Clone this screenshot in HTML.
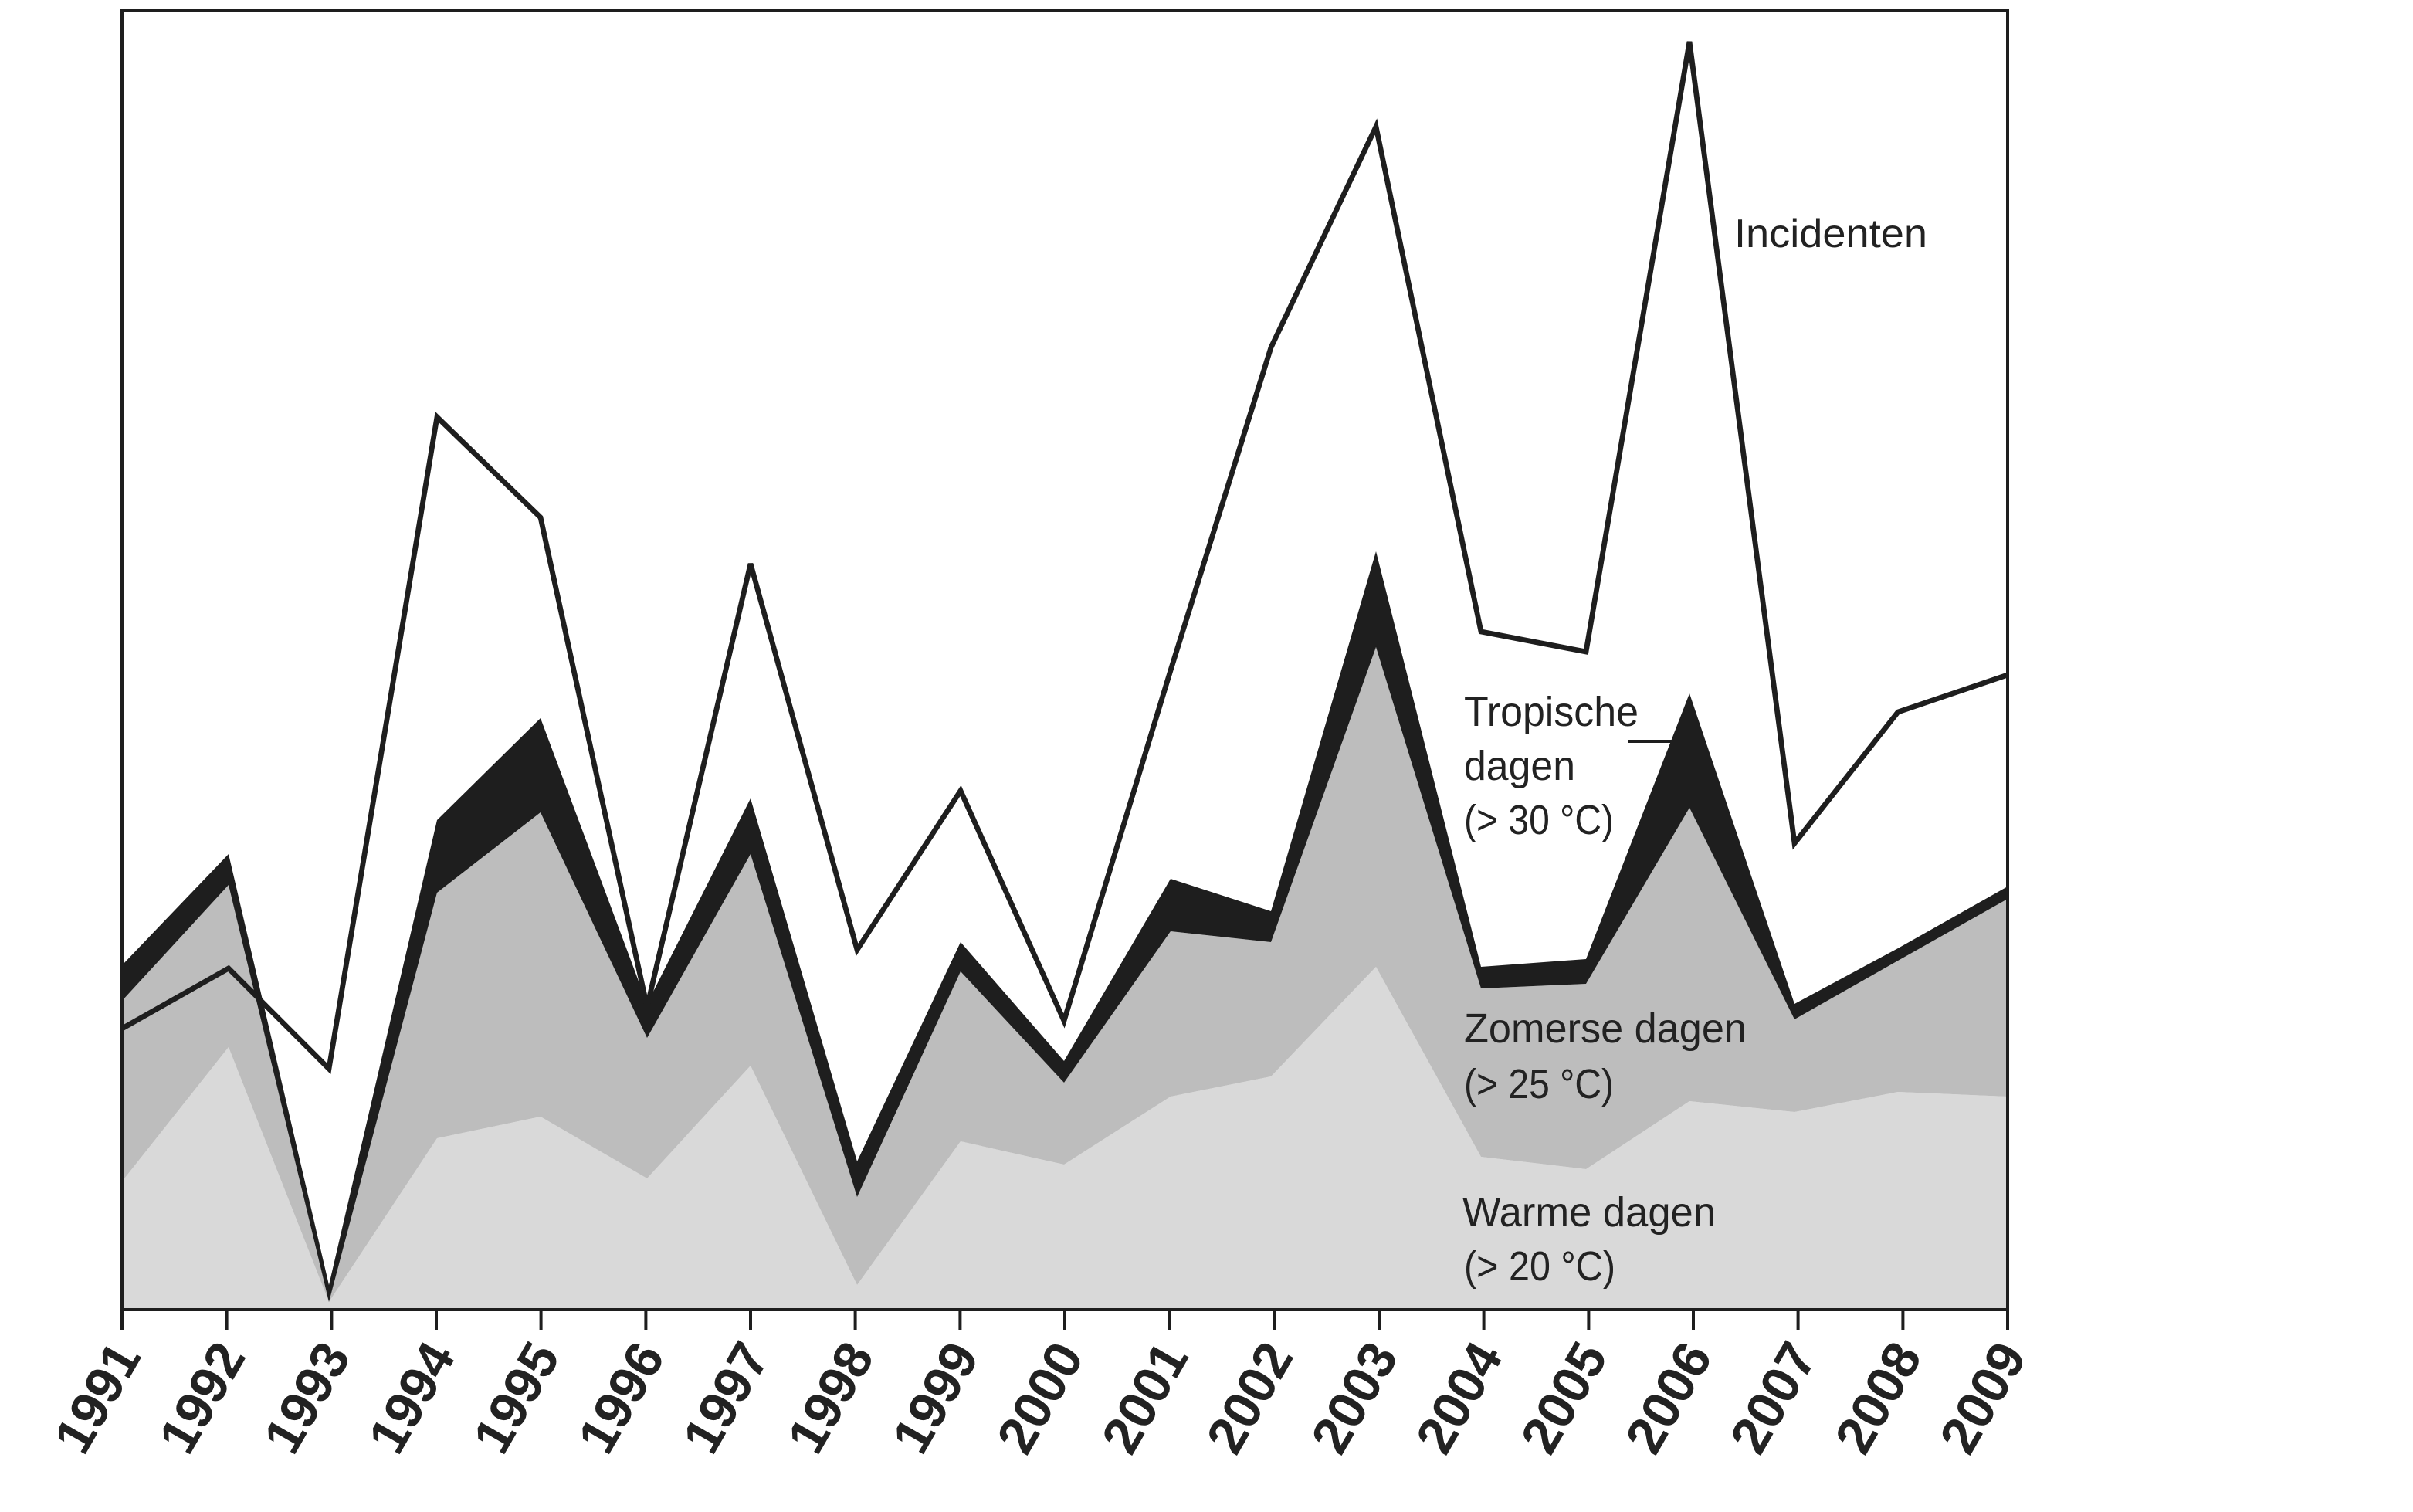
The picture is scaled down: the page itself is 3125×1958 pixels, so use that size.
<!DOCTYPE html>
<html><head><meta charset="utf-8"><style>
html,body{margin:0;padding:0;background:#fff;}
svg{display:block;}
text{font-family:"Liberation Sans","DejaVu Sans",sans-serif;fill:#222;}
</style></head><body>
<svg width="3125" height="1958" viewBox="0 0 1562.5 979" xmlns="http://www.w3.org/2000/svg">
<polygon fill="#d9d9d9" points="79,848 79,765 148,678 213,843 283,737 350,723 419,763 486,690 555,832 622,739 689,754 758,710 823,697 891,626 959,749 1027,757 1094,713 1162,720 1229,707 1300,710 1300,848"/>
<polygon fill="#bdbdbd" points="79,765 79,646 148,573 213,838 283,578 350,526 419,668 486,553 555,768 622,629 689,701 758,603 823,610 891,419 959,640 1027,637 1094,523 1162,657 1229,618 1300,580 1300,710 1229,707 1162,720 1094,713 1027,757 959,749 891,626 823,697 758,710 689,754 622,739 555,832 486,690 419,763 350,723 283,737 213,843 148,678 79,765"/>
<polygon fill="#1e1e1e" points="79,625 148,553 213,832 283,531 350,465 419,650 486,517 555,752 622,610 689,687 758,569 823,590 891,357 959,626 1027,621 1094,449 1162,650 1229,614 1300,574 1300,582 1229,622 1162,660 1094,523 1027,637 959,640 891,419 823,610 758,603 689,701 622,629 555,775 486,553 419,672 350,526 283,578 213,843 148,573 79,648"/>
<polyline fill="none" stroke="#1e1e1e" stroke-width="3.4" stroke-linejoin="miter" points="79,666 148,627 213,692 283,270 350,335 419,652 486,365 555,615 622,512 689,661 758,434 823,225 891,82 959,409 1027,422 1094,27 1162,546 1229,461 1300,437"/>
<polyline fill="none" stroke="#1e1e1e" stroke-width="2" points="79,848 79,7 1300,7 1300,848 79,848"/>
<g stroke="#1e1e1e" stroke-width="2">
<line x1="79" y1="848" x2="79" y2="861"/><line x1="146.8" y1="848" x2="146.8" y2="861"/><line x1="214.7" y1="848" x2="214.7" y2="861"/><line x1="282.5" y1="848" x2="282.5" y2="861"/><line x1="350.3" y1="848" x2="350.3" y2="861"/><line x1="418.2" y1="848" x2="418.2" y2="861"/><line x1="486" y1="848" x2="486" y2="861"/><line x1="553.8" y1="848" x2="553.8" y2="861"/><line x1="621.7" y1="848" x2="621.7" y2="861"/><line x1="689.5" y1="848" x2="689.5" y2="861"/><line x1="757.3" y1="848" x2="757.3" y2="861"/><line x1="825.2" y1="848" x2="825.2" y2="861"/><line x1="893" y1="848" x2="893" y2="861"/><line x1="960.8" y1="848" x2="960.8" y2="861"/><line x1="1028.7" y1="848" x2="1028.7" y2="861"/><line x1="1096.5" y1="848" x2="1096.5" y2="861"/><line x1="1164.3" y1="848" x2="1164.3" y2="861"/><line x1="1232.2" y1="848" x2="1232.2" y2="861"/><line x1="1300" y1="848" x2="1300" y2="861"/>
</g>
<text x="1123" y="160" font-size="26" textLength="125" lengthAdjust="spacingAndGlyphs">Incidenten</text>
<text x="948" y="470" font-size="27" textLength="113" lengthAdjust="spacingAndGlyphs">Tropische</text>
<line x1="1054" y1="480" x2="1084" y2="480" stroke="#1e1e1e" stroke-width="2"/>
<text x="948" y="505" font-size="27" textLength="72" lengthAdjust="spacingAndGlyphs">dagen</text>
<text x="948" y="540" font-size="27" textLength="97" lengthAdjust="spacingAndGlyphs">(&gt; 30 °C)</text>
<text x="948" y="675" font-size="27" textLength="183" lengthAdjust="spacingAndGlyphs">Zomerse dagen</text>
<text x="948" y="711" font-size="27" textLength="97" lengthAdjust="spacingAndGlyphs">(&gt; 25 °C)</text>
<text x="947" y="794" font-size="27" textLength="164" lengthAdjust="spacingAndGlyphs">Warme dagen</text>
<text x="948" y="829" font-size="27" textLength="98" lengthAdjust="spacingAndGlyphs">(&gt; 20 °C)</text>
<g font-size="34" font-weight="bold" text-anchor="end">
<text transform="translate(92,878) rotate(-60)">1991</text>
<text transform="translate(159.8,878) rotate(-60)">1992</text>
<text transform="translate(227.7,878) rotate(-60)">1993</text>
<text transform="translate(295.5,878) rotate(-60)">1994</text>
<text transform="translate(363.3,878) rotate(-60)">1995</text>
<text transform="translate(431.2,878) rotate(-60)">1996</text>
<text transform="translate(499,878) rotate(-60)">1997</text>
<text transform="translate(566.8,878) rotate(-60)">1998</text>
<text transform="translate(634.7,878) rotate(-60)">1999</text>
<text transform="translate(702.5,878) rotate(-60)">2000</text>
<text transform="translate(770.3,878) rotate(-60)">2001</text>
<text transform="translate(838.2,878) rotate(-60)">2002</text>
<text transform="translate(906,878) rotate(-60)">2003</text>
<text transform="translate(973.8,878) rotate(-60)">2004</text>
<text transform="translate(1041.7,878) rotate(-60)">2005</text>
<text transform="translate(1109.5,878) rotate(-60)">2006</text>
<text transform="translate(1177.3,878) rotate(-60)">2007</text>
<text transform="translate(1245.2,878) rotate(-60)">2008</text>
<text transform="translate(1313,878) rotate(-60)">2009</text>
</g>
</svg>
</body></html>
